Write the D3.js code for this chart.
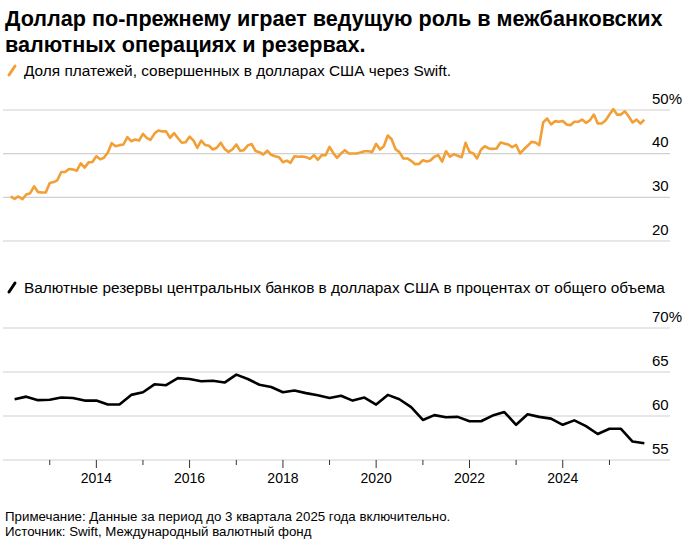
<!DOCTYPE html>
<html>
<head>
<meta charset="utf-8">
<script src="https://cdn.jsdelivr.net/npm/d3@7"></script>
<style>
  body { margin: 0; background: #fff; }
  svg text { font-family: "Liberation Sans", Arial, sans-serif; fill: #000; }
</style>
</head>
<body>
<div class="canvas"></div>
<script>
// Данные
const titleLines = [
  "Доллар по-прежнему играет ведущую роль в межбанковских",
  "валютных операциях и резервах.",
];
const swiftLabel = "Доля платежей, совершенных в долларах США через Swift.";
const reserveLabel =
  "Валютные резервы центральных банков в долларах США в процентах от общего объема";
const notes = [
  "Примечание: Данные за период до 3 квартала 2025 года включительно.",
  "Источник: Swift, Международный валютный фонд",
];

// Swift, ежемесячно с февраля 2012
const swiftStart = [2012, 1];
const swiftValues = [
  30.2, 29.65, 30.2, 29.6, 30.65, 30.95, 32.5, 31.2, 31.1, 31.1,
  33.3, 33.5, 33.9, 35.8, 35.8, 36.5, 36.4, 36.1, 37.8, 36.8,
  38.0, 38.1, 39.4, 38.7, 39.05, 40.25, 42.4, 41.7, 41.95, 42.1,
  43.8, 42.85, 43.25, 43.0, 44.55, 43.55, 43.15, 44.6, 45.3, 45.1,
  45.1, 43.6, 44.7, 43.6, 42.5, 42.6, 43.9, 43.0, 41.35, 43.0,
  42.0, 41.8, 40.95, 41.35, 42.5, 41.1, 40.4, 40.95, 42.1, 40.65,
  40.8, 41.9, 42.2, 40.6, 40.35, 39.8, 40.7, 39.75, 39.4, 39.2,
  38.05, 38.4, 37.9, 39.4, 39.3, 39.35, 39.2, 38.8, 39.65, 38.6,
  39.65, 39.65, 41.55, 40.05, 39.05, 40.05, 40.8, 40.05, 40.05, 40.05,
  40.25, 40.55, 40.55, 40.4, 42.25, 40.95, 41.7, 44.15, 43.3, 41.0,
  40.35, 38.9, 38.9, 38.35, 37.6, 37.65, 38.5, 38.2, 38.45, 39.3,
  39.65, 38.2, 40.55, 39.3, 39.9, 39.5, 39.2, 42.5, 40.4, 40.05,
  38.9, 40.9, 41.7, 41.2, 41.1, 41.2, 42.55, 42.3, 42.1, 41.5,
  42.0, 40.05, 40.95, 41.8, 42.7, 42.55, 41.95, 47.15, 48.05, 46.7,
  47.45, 47.3, 47.5, 46.7, 46.5, 47.3, 47.3, 47.8, 47.05, 47.65,
  48.95, 46.9, 46.9, 47.6, 48.95, 50.2, 48.95, 48.95, 49.7, 48.5,
  47.15, 47.8, 46.9, 47.8,
];

// МВФ COFER, ежеквартально с 1 кв. 2012
const reserveStart = [2012, 0];
const reserveValues = [
  61.9, 62.2, 61.8, 61.85, 62.1, 62.05, 61.75, 61.75, 61.3, 61.3,
  62.4, 62.7, 63.6, 63.5, 64.3, 64.2, 63.95, 64.0, 63.8, 64.7,
  64.2, 63.55, 63.3, 62.7, 62.9, 62.6, 62.35, 62.05, 62.3, 61.75,
  62.1, 61.3, 62.4, 61.9, 61.0, 59.55, 60.1, 59.85, 59.9, 59.4,
  59.4, 60.05, 60.45, 59.0, 60.2, 59.9, 59.7, 59.0, 59.5, 58.85,
  57.95, 58.55, 58.55, 57.1, 56.9,
];

const swiftTicks = [20, 30, 40, 50];
const reserveTicks = [55, 60, 65, 70];
const yearTicks = d3.range(2013, 2026);
const yearLabels = [2014, 2016, 2018, 2020, 2022, 2024];

// Размеры
const W = 690, H = 549;
const orange = "#f29f35";
const gridColor = "#d0d0d0";

const svg = d3
  .select(".canvas")
  .append("svg")
  .attr("width", W)
  .attr("height", H);

// Даты: точка ставится на конец периода
const swiftData = swiftValues.map((v, i) => ({
  date: new Date(swiftStart[0], swiftStart[1] + i + 1, 1),
  value: v,
}));
const reserveData = reserveValues.map((v, i) => ({
  date: new Date(reserveStart[0], reserveStart[1] + (i + 1) * 3, 1),
  value: v,
}));

const x = d3
  .scaleTime()
  .domain([new Date(2012, 0, 1), new Date(2026, 3, 20)])
  .range([3, 670]);

const yTop = d3.scaleLinear().domain([20, 50]).range([241, 110]);
const yBot = d3.scaleLinear().domain([55, 70]).range([460, 328]);

// Заголовок
svg
  .append("g")
  .selectAll("text")
  .data(titleLines)
  .join("text")
  .attr("x", 5)
  .attr("y", (d, i) => 26 + i * 26)
  .attr("font-size", 21.6)
  .attr("font-weight", "bold")
  .text((d) => d);

// Легенды
const legend = (yy, color, label) => {
  svg
    .append("line")
    .attr("x1", 9)
    .attr("y1", yy + 5)
    .attr("x2", 15)
    .attr("y2", yy - 4)
    .attr("stroke", color)
    .attr("stroke-width", 3)
    .attr("stroke-linecap", "round");
  svg
    .append("text")
    .attr("x", 24)
    .attr("y", yy + 5.5)
    .attr("font-size", 15.4)
    .text(label);
};
legend(70, orange, swiftLabel);
legend(287, "#000", reserveLabel);

// Сетка и подписи
const grid = (scale, ticks, fmt) => {
  const g = svg.append("g");
  g.selectAll("line")
    .data(ticks)
    .join("line")
    .attr("x1", 3)
    .attr("x2", 670)
    .attr("y1", (d) => scale(d))
    .attr("y2", (d) => scale(d))
    .attr("stroke", gridColor)
    .attr("stroke-width", 1.2);
  g.selectAll("text")
    .data(ticks)
    .join("text")
    .attr("x", 652)
    .attr("y", (d) => scale(d) - 6.5)
    .attr("font-size", 15)
    .text(fmt);
};
grid(yTop, swiftTicks, (d, i) => (i === swiftTicks.length - 1 ? d + "%" : d));
grid(yBot, reserveTicks, (d, i) => (i === reserveTicks.length - 1 ? d + "%" : d));

// Ось X
const axis = svg.append("g");
axis
  .selectAll("line")
  .data(yearTicks)
  .join("line")
  .attr("x1", (d) => x(new Date(d, 0, 1)))
  .attr("x2", (d) => x(new Date(d, 0, 1)))
  .attr("y1", 460)
  .attr("y2", (d) => (d % 2 === 0 ? 468 : 465))
  .attr("stroke", "#333")
  .attr("stroke-width", 1);
axis
  .selectAll("text")
  .data(yearLabels)
  .join("text")
  .attr("x", (d) => x(new Date(d, 0, 1)))
  .attr("y", 483)
  .attr("text-anchor", "middle")
  .attr("font-size", 14)
  .text((d) => d);

// Линии
const lineTop = d3
  .line()
  .x((d) => x(d.date))
  .y((d) => yTop(d.value));
const lineBot = d3
  .line()
  .x((d) => x(d.date))
  .y((d) => yBot(d.value));

svg
  .append("path")
  .datum(swiftData)
  .attr("d", lineTop)
  .attr("fill", "none")
  .attr("stroke", orange)
  .attr("stroke-width", 2.6)
  .attr("stroke-linejoin", "round");

svg
  .append("path")
  .datum(reserveData)
  .attr("d", lineBot)
  .attr("fill", "none")
  .attr("stroke", "#000")
  .attr("stroke-width", 2.6)
  .attr("stroke-linejoin", "round");

// Примечания
svg
  .append("g")
  .selectAll("text")
  .data(notes)
  .join("text")
  .attr("x", 5)
  .attr("y", (d, i) => 521 + i * 15)
  .attr("font-size", 13.3)
  .text((d) => d);
</script>
</body>
</html>
